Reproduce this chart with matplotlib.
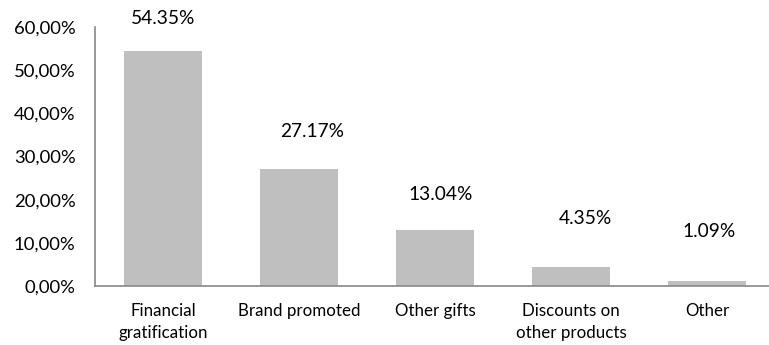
import matplotlib
matplotlib.use("Agg")
import matplotlib.pyplot as plt
from matplotlib.ticker import FuncFormatter

categories = ["Financial\ngratification", "Brand promoted", "Other gifts",
              "Discounts on\nother products", "Other"]
shares = [54.35, 27.17, 13.04, 4.35, 1.09]
yticks = [0, 10, 20, 30, 40, 50, 60]

# label nudges in pixels (dx, dy) above each bar
label_offsets = [(0, 33), (13, 37), (6, 35), (14, 49), (2, 50)]

plt.rcParams["font.family"] = ["Lato", "DejaVu Sans"]

fig = plt.figure(figsize=(7.69, 3.45), dpi=100)
ax = fig.add_axes([95 / 769, 59 / 345, 680 / 769, 259 / 345])

x = range(len(categories))
ax.bar(x, shares, width=0.575, color="#BFBFBF")

for i, v in enumerate(shares):
    dx, dy = label_offsets[i]
    ax.annotate(f"{v:.2f}%", (i, v), xytext=(dx * 0.72, dy * 0.72),
                textcoords="offset points", ha="center", va="center",
                fontsize=13.8, color="black")

ax.set_xlim(-0.5, 4.5)
ax.set_ylim(0, 60)
ax.set_yticks(yticks)
ax.yaxis.set_major_formatter(FuncFormatter(lambda v, p: f"{v:.2f}".replace(".", ",") + "%"))
ax.set_xticks(list(x))
ax.set_xticklabels(categories, fontsize=12.2, linespacing=1.5)
ax.tick_params(axis="both", length=0)
ax.tick_params(axis="y", labelsize=13.3, pad=14)
ax.tick_params(axis="x", pad=12)

for side in ["top", "right"]:
    ax.spines[side].set_visible(False)
for side in ["left", "bottom"]:
    ax.spines[side].set_color("#888888")
    ax.spines[side].set_linewidth(1.2)

fig.savefig("out.png", dpi=100)
